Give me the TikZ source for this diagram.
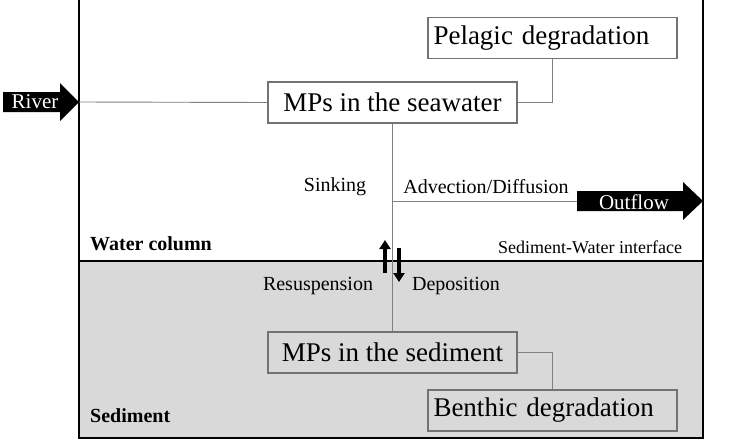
\documentclass[tikz,border=0pt]{standalone}
\usepackage{fontspec}
\setmainfont{Liberation Serif}
\usetikzlibrary{arrows.meta}
\begin{document}
\begin{tikzpicture}[x=1pt,y=-1pt,
  boxn/.style={draw=black!55,line width=1.2pt,minimum width=249pt,minimum height=41pt,inner sep=0pt,font=\fontsize{27}{30}\selectfont},
  leftbox/.style={text width=238pt,align=left},
  conn/.style={draw=black!50,line width=0.9pt},
  lbl/.style={inner sep=0pt,font=\fontsize{20}{22}\selectfont},
  zone/.style={inner sep=0pt,anchor=west,font=\fontsize{20}{22}\selectfont\bfseries},
  flowarrow/.style={fill=black},
  flowtxt/.style={inner sep=0pt,text=white,font=\fontsize{21}{23}\selectfont},
  vert/.style={line width=3.6pt,-{Triangle[length=9pt,width=11pt]}}]
\useasboundingbox (0,0) rectangle (740,440);
% background sediment
\fill[black!15] (79,261) rectangle (703,438);
% outer frame
\draw[line width=2.4pt] (79,-5) -- (79,438) -- (703,438) -- (703,-5);
\draw[line width=2.4pt] (79,261) -- (703,261);
% boxes
\node[boxn,fill=white] (sea) at (392.5,102.5) {MPs in the seawater};
\node[boxn,fill=white,leftbox] (pel) at (552.5,38) {Pelagic degradation};
\node[boxn] (sed) at (392.5,352.5) {MPs in the sediment};
\node[boxn,leftbox] (ben) at (552.5,410.5) {Benthic degradation};
% river arrow
\fill[flowarrow] (3,92) -- (60,92) -- (60,83) -- (79,102) -- (60,121) -- (60,112) -- (3,112) -- cycle;
\node[flowtxt] (river) at (35,102) {River};
\coordinate (rivertip) at (79,102);
% outflow arrow
\fill[flowarrow] (577,191) -- (683,191) -- (683,182) -- (703,201) -- (683,220) -- (683,211) -- (577,211) -- cycle;
\node[flowtxt] (outflow) at (634,202) {Outflow};
\coordinate (outtail) at (577,201);
\coordinate (branch) at (392.5,201);
% connectors
\draw[conn] (rivertip) -- (sea.west);
\draw[conn] (sea.east) -| (pel.south);
\draw[conn] (sed.east) -| (ben.north);
\draw[conn] (sea.south) -- (sed.north);
\draw[conn] (branch) -- (outtail);
% labels
\node[lbl] (sink) at (335,187) {Sinking};
\node[lbl] (adv) at (486,187) {Advection/Diffusion};
\node[lbl,font=\fontsize{18}{20}\selectfont] (swi) at (590,247) {Sediment-Water interface};
\node[lbl] (res) at (318,286) {Resuspension};
\node[lbl] (dep) at (456,286) {Deposition};
\node[zone] (wc) at (90,244) {Water column};
\node[zone] (sd) at (90,416) {Sediment};
% exchange arrows
\coordinate (upS) at (385,273);
\coordinate (upE) at (385,240);
\coordinate (dnS) at (399,248);
\coordinate (dnE) at (399,282);
\draw[vert] (upS) -- (upE);
\draw[vert] (dnS) -- (dnE);
\end{tikzpicture}
\end{document}
